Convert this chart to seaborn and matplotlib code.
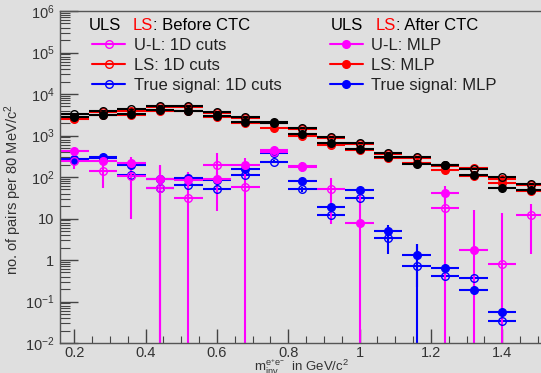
import numpy as np
import pandas as pd
import matplotlib
matplotlib.use("Agg")
import matplotlib.pyplot as plt
from matplotlib.lines import Line2D
from matplotlib.ticker import FixedLocator, FuncFormatter, LogLocator, NullFormatter
import seaborn as sns

nan = np.nan

# bin centres (80 MeV bins)
mass = [0.20, 0.28, 0.36, 0.44, 0.52, 0.60, 0.68, 0.76, 0.84,
        0.92, 1.00, 1.08, 1.16, 1.24, 1.32, 1.40, 1.48]

# ULS / LS, before CTC (1D cuts) and after CTC (MLP)
uls_1d = [3350, 3900, 4350, 5230, 5200, 3740, 2840, 2150, 1490, 935, 670, 385, 308, 190, 160, 98, 68]
uls_mlp = [2840, 3170, 3300, 4110, 3960, 3000, 2150, 1950, 1090, 649, 473, 298, 206, 195, 112, 55, 49]
ls_1d = [2700, 3600, 4000, 4900, 4900, 3500, 2600, 2000, 1400, 880, 620, 360, 290, 180, 162, 92, 64]
ls_mlp = [2550, 3050, 3150, 3900, 3800, 2850, 2000, 1500, 1000, 600, 440, 280, 220, 147, 105, 70, 46]

# U-L (signal after subtraction)
ul_1d = [240, 142, 108, 55, 32, 195, 56, 400, 185, 50.5, nan, nan, nan, 17.6, nan, 0.80, 12.1]
ul_1d_err = [80, 88, 98, 130, 102, 180, 100, 60, 40, 43, nan, nan, nan, 25, nan, 13, 10.7]
ul_mlp = [423, 243, 221, 88, 85, 89, 195, 450, 170, nan, 8, nan, nan, 40.5, 1.74, nan, nan]
ul_mlp_err = [40, 50, 85, 110, 40, 40, 90, 60, 40, nan, 45, nan, nan, 20, 14, nan, nan]

# true signal
sig_1d = [250, 290, 112, 53, 64, 50.6, 112, 234, 51, 12.1, 30.7, 3.4, 0.73, 0.41, 0.375, 0.0345, nan]
sig_1d_err = [20, 20, 15, 10, 10, 8, 12, 20, 8, 3, 5, 2, 1.7, 0.1, 0.05, 0.005, nan]
sig_mlp = [265, 298, 195, 89, 93, 85, 153, 372, 81, 19.2, 48.6, 5.0, 1.32, 0.65, 0.19, 0.055, nan]
sig_mlp_err = [20, 20, 15, 10, 10, 10, 15, 20, 8, 4, 6, 2, 1.1, 0.1, 0.03, 0.008, nan]

BIN_HALF = 0.04
BG = "#dfdfdf"
MAG, RED, BLUE, BLACK = "#ff00ff", "#ff0000", "#0000ff", "#000000"

sns.set_theme(style="ticks")
plt.rcParams["font.family"] = ["Liberation Sans", "DejaVu Sans"]
plt.rcParams["mathtext.default"] = "regular"

W, H = 541, 373
fig = plt.figure(figsize=(W / 100, H / 100), dpi=100, facecolor=BG)
ax = fig.add_axes([60 / W, 30 / H, 485 / W, 332 / H])
ax.set_facecolor(BG)

df = pd.DataFrame({"mass": mass})


def draw(y, err, color, filled):
    ax.errorbar(df["mass"], y, xerr=BIN_HALF, yerr=err, fmt="o", color=color,
                ecolor=color, elinewidth=1.5, capsize=0, markersize=5.5,
                markerfacecolor=color if filled else "none",
                markeredgecolor=color, markeredgewidth=1.0)


draw(ls_1d, None, RED, False)
draw(ls_mlp, None, RED, True)
draw(uls_1d, None, BLACK, False)
draw(uls_mlp, None, BLACK, True)
draw(sig_1d, sig_1d_err, BLUE, False)
draw(sig_mlp, sig_mlp_err, BLUE, True)
draw(ul_1d, ul_1d_err, MAG, False)
draw(ul_mlp, ul_mlp_err, MAG, True)

ax.set_yscale("log")
ax.set_ylim(1e-2, 1e6)
ax.set_xlim(0.16, 1.52)


def ylab(v, pos):
    n = int(round(np.log10(v)))
    if n == 0:
        return "1"
    if n == 1:
        return "10"
    return "$10^{%d}$" % n


ax.yaxis.set_major_locator(LogLocator(base=10, numticks=20))
ax.yaxis.set_major_formatter(FuncFormatter(ylab))
ax.yaxis.set_minor_locator(LogLocator(base=10, subs=np.arange(2, 10), numticks=20))
ax.yaxis.set_minor_formatter(NullFormatter())
ax.xaxis.set_major_locator(FixedLocator([0.2, 0.4, 0.6, 0.8, 1.0, 1.2, 1.4]))
ax.xaxis.set_major_formatter(FuncFormatter(lambda v, p: "1" if abs(v - 1) < 1e-9 else "%g" % v))
ax.xaxis.set_minor_locator(FixedLocator(np.arange(0.20, 1.52, 0.05)))

ax.tick_params(which="both", direction="in", colors="#444444", labelcolor="#333333",
               labelsize=10.5, top=False, right=False)
ax.tick_params(axis="y", which="major", length=13, width=1, pad=4)
ax.tick_params(axis="y", which="minor", length=7, width=0.8)
ax.tick_params(axis="x", which="major", length=10, width=1, pad=2)
ax.tick_params(axis="x", which="minor", length=5, width=0.8)
for s in ["left", "bottom", "top"]:
    ax.spines[s].set_color("#555555")
    ax.spines[s].set_linewidth(1)
ax.spines["right"].set_visible(False)

# axis titles
fig.text(13 / W, 1 - 190 / H, "no. of pairs per 80 MeV/c$^2$", rotation=90,
         ha="center", va="center", fontsize=10.5, color="#333333")
fig.text(349 / W, 1 - 371.5 / H, "m$^{e^{+}e^{-}}_{inv}$  in GeV/c$^2$",
         ha="right", va="baseline", fontsize=9.5, color="#333333")


# legend headers: "ULS" black, "LS" red, rest black
def header(x_uls, x_ls, rest):
    fig.text(x_uls / W, 1 - 25 / H, "ULS", fontsize=12, va="center", color=BLACK)
    t = fig.text(x_ls / W, 1 - 25 / H, "LS", fontsize=12, va="center", color=RED)
    ax.annotate(rest, xy=(1, 0.5), xycoords=t, va="center", ha="left",
                fontsize=12, color=BLACK, annotation_clip=False)


header(89, 133, ": Before CTC")
header(331, 376, ": After CTC")

handles = [
    Line2D([], [], color=MAG, lw=1.5, marker="o", mfc="none", ms=5.5),
    Line2D([], [], color=RED, lw=1.5, marker="o", mfc="none", ms=5.5),
    Line2D([], [], color=BLUE, lw=1.5, marker="o", mfc="none", ms=5.5),
    Line2D([], [], color=MAG, lw=1.5, marker="o", ms=5.5),
    Line2D([], [], color=RED, lw=1.5, marker="o", ms=5.5),
    Line2D([], [], color=BLUE, lw=1.5, marker="o", ms=5.5),
]
labels = ["U-L: 1D cuts", "LS: 1D cuts", "True signal: 1D cuts",
          "U-L: MLP", "LS: MLP", "True signal: MLP"]
leg = fig.legend(handles, labels, ncol=2, loc="upper left",
                 bbox_to_anchor=(92 / W, 1 - 38 / H), frameon=False,
                 fontsize=12, handlelength=2.0, handletextpad=0.5,
                 labelspacing=0.3, columnspacing=2.9, borderpad=0,
                 borderaxespad=0)
for t in leg.get_texts():
    t.set_color("#222222")

fig.savefig("out.png", dpi=100, facecolor=BG)
